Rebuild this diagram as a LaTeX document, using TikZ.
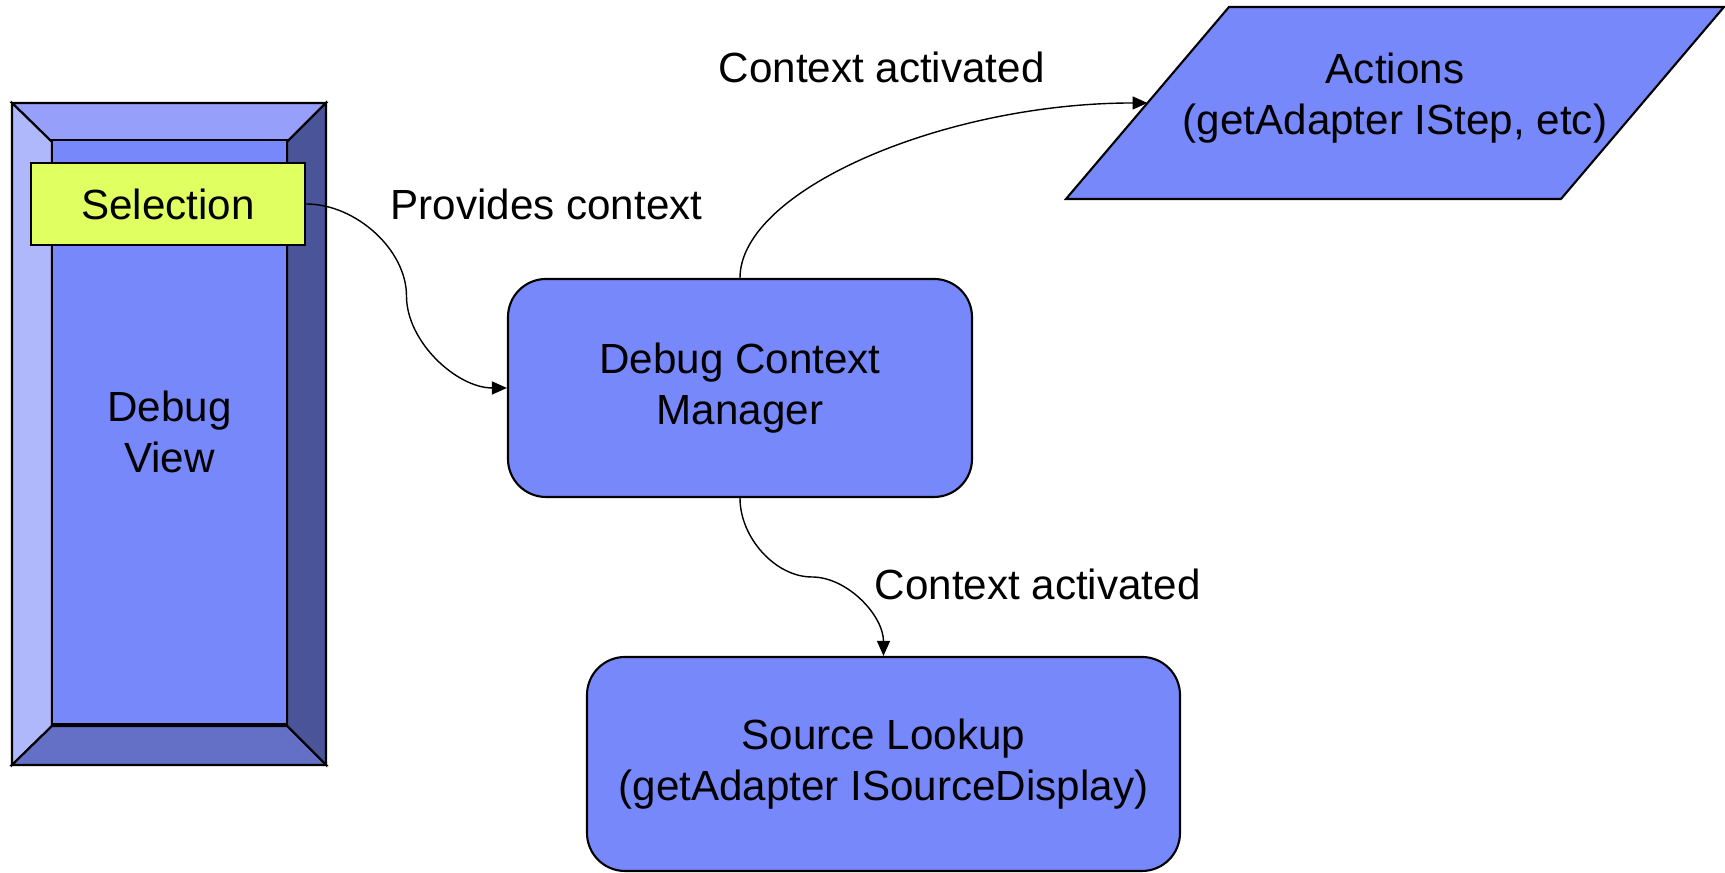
\documentclass[tikz,border=0pt]{standalone}
\usepackage{fontspec}
\setmainfont{Liberation Sans}
\usetikzlibrary{positioning,arrows.meta,shapes.geometric,calc}

\definecolor{boxblue}{RGB}{119,137,250}
\definecolor{bevtop}{RGB}{150,160,250}
\definecolor{bevleft}{RGB}{176,184,252}
\definecolor{bevright}{RGB}{74,84,152}
\definecolor{bevbot}{RGB}{99,112,198}
\definecolor{selyellow}{RGB}{224,255,96}

\tikzset{
  box/.style={draw, semithick, fill=boxblue, rounded corners=3.8mm, align=center, inner sep=0pt},
  conn/.style={thin, -{Triangle[length=1.5mm,width=1.3mm]}},
  lbl/.style={anchor=base west, inner sep=0pt},
}

\begin{document}
\begin{tikzpicture}[font=\fontsize{12}{14.7}\selectfont]
  \useasboundingbox (0,0) rectangle (17.25,8.73);
  % debug view frame
  \draw[semithick, fill=bevtop] (0.12,7.70) -- (3.26,7.70) -- (2.87,7.31) -- (0.52,7.31) -- cycle;
  \draw[semithick, fill=bevleft] (0.12,7.70) -- (0.52,7.31) -- (0.52,1.47) -- (0.12,1.08) -- cycle;
  \draw[semithick, fill=bevright] (3.26,7.70) -- (3.26,1.08) -- (2.87,1.47) -- (2.87,7.31) -- cycle;
  \draw[semithick, fill=bevbot] (0.12,1.08) -- (3.26,1.08) -- (2.87,1.47) -- (0.52,1.47) -- cycle;
  \node[draw, semithick, fill=boxblue, align=center, inner sep=0pt,
        minimum width=2.35cm, minimum height=5.84cm] (view) at (1.695,4.41) {Debug\\View};
  \node[draw, semithick, fill=selyellow, inner sep=0pt,
        minimum width=2.74cm, minimum height=0.82cm] (sel) at (1.68,6.69) {Selection};

  % boxes
  \node[box, minimum width=4.64cm, minimum height=2.18cm] (dcm) at (7.40,4.85) {Debug Context\\Manager};
  \node[box, minimum width=5.93cm, minimum height=2.14cm] (src) at (8.835,1.09)
       {Source Lookup\\(getAdapter ISourceDisplay)};
  % actions parallelogram
  \draw[semithick, fill=boxblue] (10.66,6.74) -- (15.61,6.74) -- (17.24,8.66) -- (12.29,8.66) -- cycle;
  \coordinate (actl) at (11.475,7.70);
  \node[align=center, inner sep=0pt] (act) at (13.95,7.75) {Actions\\(getAdapter IStep, etc)};

  % labels
  \node[lbl] (provides) at (3.90,6.53) {Provides context};
  \node[lbl] (ctxtop) at (7.18,7.90) {Context activated};
  \node[lbl] (ctxbot) at (8.74,2.73) {Context activated};

  % connectors
  \coordinate (m1) at ($(sel.east)!0.5!(dcm.west)$);
  \coordinate (m2) at ($(dcm.south)!0.5!(src.north)$);
  \draw[conn] (sel.east) .. controls +(0.5,0) and +(0,0.46) .. (m1)
                         .. controls +(0,-0.46) and +(-0.5,0) .. (dcm.west);
  \draw[conn] (dcm.north) .. controls +(0,0.875) and +(-2.04,0) .. (actl);
  \draw[conn] (dcm.south) .. controls +(0,-0.4) and +(-0.36,0) .. (m2)
                          .. controls +(0.36,0) and +(0,0.4) .. (src.north);
\end{tikzpicture}
\end{document}
